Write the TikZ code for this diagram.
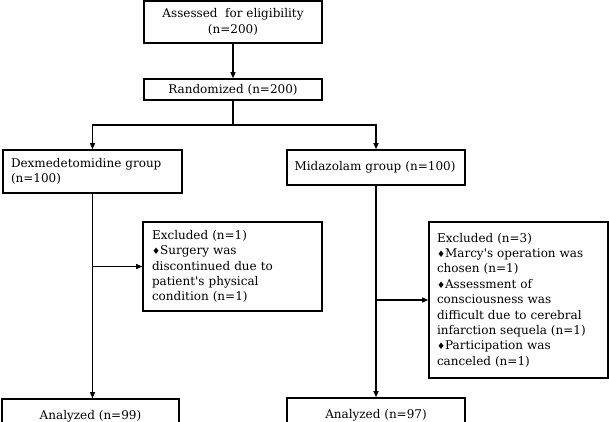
\documentclass[tikz,border=0pt]{standalone}
\usepackage{fontspec}
\setmainfont{DejaVu Serif}
\newfontfamily\symf{DejaVu Sans}
\usetikzlibrary{arrows.meta}
\newcommand{\dmd}{{\symf\fontsize{9}{9}\selectfont ♦}}
\newcommand{\apos}{\textquotesingle}
\tikzset{
  box/.style={draw, line width=1.6pt, rectangle, inner xsep=0pt, inner ysep=0pt, font=\fontsize{12}{15.4}\selectfont},
  ctr/.style={box, align=center},
  lft/.style={box, align=left},
  conn/.style={line width=1.2pt},
  arr/.style={conn, -{Triangle[length=6pt,width=5pt]}}
}
\begin{document}
\begin{tikzpicture}[x=1pt,y=-1pt]
\useasboundingbox (0,0) rectangle (609,421);
\clip (0,0) rectangle (609,421);
\node[ctr, minimum width=178pt, minimum height=42pt] (assess) at (233,22) {Assessed\ \ for eligibility\\(n=200)};
\node[ctr, minimum width=178pt, minimum height=21pt] (rand) at (233,89.5) {Randomized (n=200)};
\node[lft, minimum width=179pt, minimum height=43pt, inner xsep=8pt, text width=163pt] (dex) at (92.5,171.5) {Dexmedetomidine group\\(n=100)};
\node[lft, minimum width=178pt, minimum height=35pt, inner xsep=7.5pt, text width=163pt] (mid) at (376,167.5) {Midazolam group (n=100)};
\node[lft, minimum width=179pt, minimum height=89pt, inner xsep=9pt, text width=161pt] (exl) at (232.5,266.5) {Excluded (n=1)\\\dmd Surgery was\\discontinued due to\\patient\apos s physical\\condition (n=1)};
\node[lft, minimum width=179pt, minimum height=156pt, inner xsep=8pt, text width=163pt] (exr) at (518.5,300) {Excluded (n=3)\\\dmd Marcy\apos s operation was\\chosen (n=1)\\\dmd Assessment of\\consciousness was\\difficult due to cerebral\\infarction sequela (n=1)\\\dmd Participation was\\canceled (n=1)};
\node[ctr, minimum width=177pt, minimum height=34pt] (anl) at (90.5,416) {Analyzed (n=99)};
\node[ctr, minimum width=178pt, minimum height=34pt] (anr) at (376,415) {Analyzed (n=97)};
\coordinate (split) at (233,125);
\draw[arr] (assess.south) -- (rand.north);
\draw[conn] (rand.south) -- (split);
\draw[arr] (split) -| (dex.north);
\draw[arr] (split) -| (mid.north);
\draw[arr] (dex.south) -- (dex.south |- anl.north);
\draw[arr] (dex.south |- exl.west) -- (exl.west);
\draw[arr] (mid.south) -- (mid.south |- anr.north);
\draw[arr] (mid.south |- exr.west) -- (exr.west);
\end{tikzpicture}
\end{document}
